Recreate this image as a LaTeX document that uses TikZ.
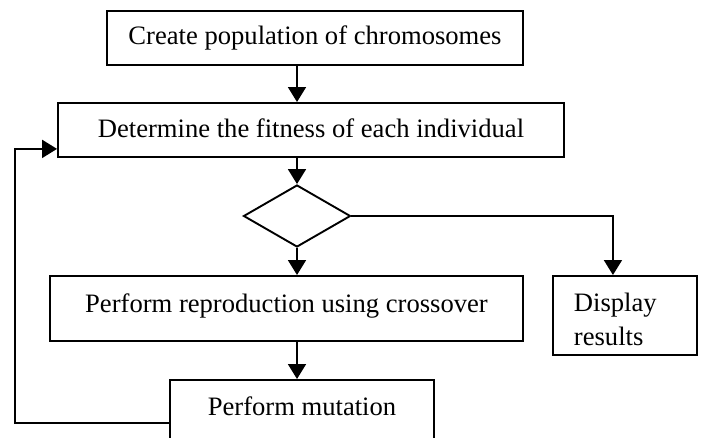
\documentclass[tikz,border=0pt]{standalone}
\usepackage{fontspec}
\setmainfont{Liberation Serif}
\usetikzlibrary{arrows.meta,positioning,shapes.geometric,calc}

\begin{document}
\begin{tikzpicture}[
    x=1pt, y=-1pt,
    block/.style={rectangle, draw, line width=1.9pt, inner sep=0pt,
        font=\fontsize{26.6}{34}\selectfont},
    decision/.style={diamond, draw, line width=1.9pt, inner sep=0pt},
    edge/.style={-{Triangle[width=18pt,length=15pt]}, line width=1.9pt}
]
\clip (0,0) rectangle (702,437);

% Main column
\node[block, minimum width=416, text height=34pt, text depth=20pt] (create) at (315,10) [anchor=north] {Create population of chromosomes};
\node[block, minimum width=506, text height=35pt, text depth=19pt] (fitness) at (311,102) [anchor=north] {Determine the fitness of each individual};
\node[decision, minimum width=107, minimum height=62] (check) at (297,216) {};
\node[block, minimum width=473, text height=37pt, text depth=28pt] (crossover) at (286.5,275) [anchor=north] {Perform reproduction using crossover};
\node[block, minimum width=264, text height=36pt, text depth=50pt] (mutation) at (302,379) [anchor=north] {Perform mutation};

% Exit branch
\node[block, inner xsep=21pt, text width=102pt, align=left, text height=36pt, text depth=43pt] (display) at (552,275) [anchor=north west] {Display\\results};

\draw[edge] (create.south -| check) -- (fitness.north -| check);
\draw[edge] (fitness.south -| check) -- (check.north);
\draw[edge] (check.south) -- (crossover.north -| check);
\draw[edge] (crossover.south -| check) -- (mutation.north -| check);
\draw[edge] (check.east) -| ([xshift=-12pt]display.north);

% Loop back
\draw[edge] (mutation.west) -- ++(-154,0) |- ([yshift=9pt]fitness.south west);
\end{tikzpicture}
\end{document}
